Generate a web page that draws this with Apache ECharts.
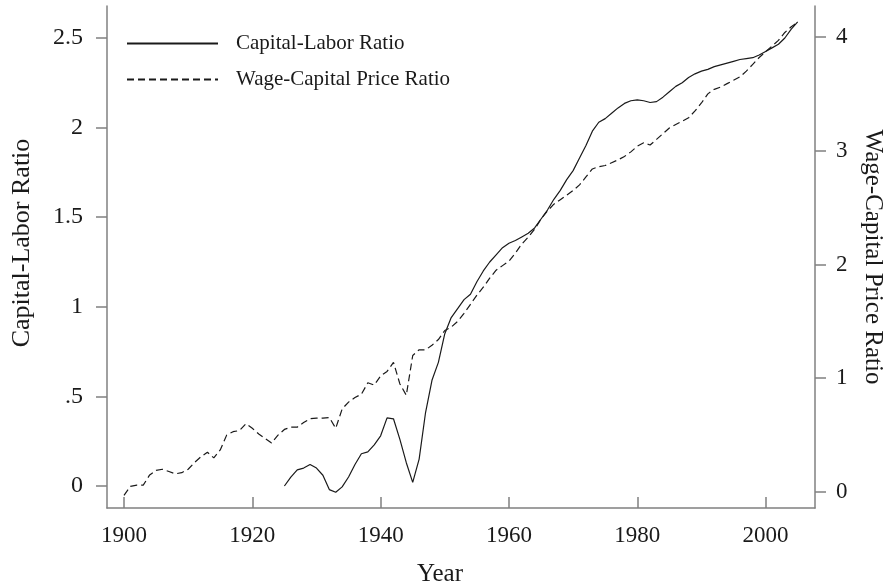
<!DOCTYPE html>
<html>
<head>
<meta charset="utf-8">
<script src="https://cdn.jsdelivr.net/npm/echarts@6/dist/echarts.min.js"></script>
<style>
    html, body { margin: 0; padding: 0; background: #fff; }
    #chart { width: 891px; height: 586px; }
</style>
</head>
<body>
<div id="chart"></div>
<script>
// years on the x axis
var years = [];
for (var y = 1900; y <= 2005; y++) years.push(y);

// Capital-Labor Ratio, 1925-2005 (left axis)
var capLaborYears = [];
for (var y2 = 1925; y2 <= 2005; y2++) capLaborYears.push(y2);
var capLabor = [
    0.00, 0.05, 0.09, 0.10, 0.12, 0.10, 0.06, -0.02, -0.035, -0.005,
    0.05, 0.12, 0.18, 0.19, 0.23, 0.28, 0.38, 0.375, 0.26, 0.13,
    0.02, 0.15, 0.41, 0.59, 0.69, 0.85, 0.94, 0.99, 1.04, 1.07,
    1.14, 1.20, 1.25, 1.29, 1.33, 1.355, 1.37, 1.39, 1.41, 1.44,
    1.49, 1.54, 1.60, 1.65, 1.71, 1.76, 1.83, 1.90, 1.98, 2.03,
    2.05, 2.08, 2.11, 2.135, 2.15, 2.155, 2.15, 2.14, 2.145, 2.17,
    2.20, 2.23, 2.25, 2.28, 2.30, 2.315, 2.325, 2.34, 2.35, 2.36,
    2.37, 2.38, 2.385, 2.39, 2.405, 2.425, 2.445, 2.465, 2.50, 2.55,
    2.59
];

// Wage-Capital Price Ratio, 1900-2005 (right axis)
var wageCapital = [
    -0.03, 0.05, 0.06, 0.06, 0.15, 0.19, 0.20, 0.18, 0.16, 0.17,
    0.20, 0.26, 0.31, 0.35, 0.30, 0.37, 0.50, 0.53, 0.54, 0.60,
    0.56, 0.51, 0.47, 0.43, 0.50, 0.55, 0.57, 0.57, 0.61, 0.645,
    0.65, 0.65, 0.655, 0.56, 0.73, 0.79, 0.83, 0.86, 0.96, 0.94,
    1.02, 1.06, 1.14, 0.95, 0.85, 1.20, 1.25, 1.25, 1.29, 1.34,
    1.42, 1.45, 1.50, 1.57, 1.65, 1.73, 1.80, 1.88, 1.95, 1.99,
    2.03, 2.10, 2.18, 2.24, 2.31, 2.40, 2.47, 2.53, 2.57, 2.61,
    2.65, 2.70, 2.77, 2.84, 2.86, 2.87, 2.895, 2.92, 2.95, 2.99,
    3.04, 3.07, 3.05, 3.10, 3.15, 3.20, 3.23, 3.26, 3.29, 3.35,
    3.42, 3.50, 3.54, 3.56, 3.59, 3.62, 3.65, 3.70, 3.76, 3.82,
    3.87, 3.92, 3.97, 4.04, 4.09, 4.13
];

// tick labels
var xTicks = [1900, 1920, 1940, 1960, 1980, 2000];
var leftTicks = [0, 0.5, 1, 1.5, 2, 2.5];
var leftTickLabels = ['0', '.5', '1', '1.5', '2', '2.5'];
var rightTicks = [0, 1, 2, 3, 4];

var font = 'Liberation Serif, Times New Roman, serif';
var axisGray = '#808080';
var ink = '#1a1a1a';

function pairs(xs, vs) {
    return vs.map(function (v, i) { return [xs[i], v]; });
}

var chart = echarts.init(document.getElementById('chart'));

chart.setOption({
    backgroundColor: '#fff',
    animation: false,
    grid: { left: 107, right: 76, top: 6, bottom: 78, outerBoundsMode: 'none', containLabel: false },
    legend: {
        orient: 'vertical',
        left: 121,
        top: 28,
        itemWidth: 91,
        itemHeight: 20,
        itemGap: 15,
        itemStyle: { opacity: 0 },
        textStyle: { fontFamily: font, fontSize: 21, color: ink, padding: [0, 0, 0, 13] },
        data: ['Capital-Labor Ratio', 'Wage-Capital Price Ratio']
    },
    xAxis: {
        type: 'value',
        position: 'bottom',
        min: 1897.35,
        max: 2007.7,
        name: 'Year',
        nameLocation: 'middle',
        nameGap: 54,
        nameTextStyle: { fontFamily: font, fontSize: 25, color: ink, padding: [0, 42, 0, 0] },
        axisLine: { show: true, onZero: false, lineStyle: { color: axisGray, width: 1.5 } },
        axisTick: { show: true, inside: true, length: 11, customValues: xTicks, lineStyle: { color: axisGray, width: 1.5 } },
        axisLabel: {
            customValues: xTicks, margin: 16, fontFamily: font, fontSize: 23, color: ink,
            formatter: function (v) { return String(v); }
        },
        splitLine: { show: false }
    },
    yAxis: [
        {
            type: 'value',
            position: 'left',
            min: -0.1228,
            max: 2.6786,
            name: 'Capital-Labor Ratio',
            nameLocation: 'middle',
            nameGap: 72,
            nameTextStyle: { fontFamily: font, fontSize: 26, color: ink, padding: [0, 0, 0, 28] },
            axisLine: { show: true, lineStyle: { color: axisGray, width: 1.5 } },
            axisTick: { show: true, length: 11, customValues: leftTicks, lineStyle: { color: axisGray, width: 1.5 } },
            axisLabel: {
                customValues: leftTicks,
                margin: 24,
                fontFamily: font,
                fontSize: 24,
                color: ink,
                formatter: function (v) {
                    var i = leftTicks.indexOf(v);
                    return i >= 0 ? leftTickLabels[i] : '';
                }
            },
            splitLine: { show: false }
        },
        {
            type: 'value',
            position: 'right',
            min: -0.1407,
            max: 4.2725,
            name: 'Wage-Capital Price Ratio',
            nameLocation: 'middle',
            nameGap: 45,
            nameRotate: -90,
            nameTextStyle: { fontFamily: font, fontSize: 25, color: ink },
            axisLine: { show: true, lineStyle: { color: axisGray, width: 1.5 } },
            axisTick: { show: true, length: 11, customValues: rightTicks, lineStyle: { color: axisGray, width: 1.5 } },
            axisLabel: { customValues: rightTicks, margin: 21, fontFamily: font, fontSize: 23, color: ink },
            splitLine: { show: false }
        }
    ],
    series: [
        {
            name: 'Capital-Labor Ratio',
            type: 'line',
            yAxisIndex: 0,
            symbol: 'none',
            color: ink,
            lineStyle: { color: ink, width: 1.2 },
            data: pairs(capLaborYears, capLabor)
        },
        {
            name: 'Wage-Capital Price Ratio',
            type: 'line',
            yAxisIndex: 1,
            symbol: 'none',
            color: ink,
            lineStyle: { color: ink, width: 1.2, type: [7, 4] },
            data: pairs(years, wageCapital)
        }
    ]
});
</script>
</body>
</html>
